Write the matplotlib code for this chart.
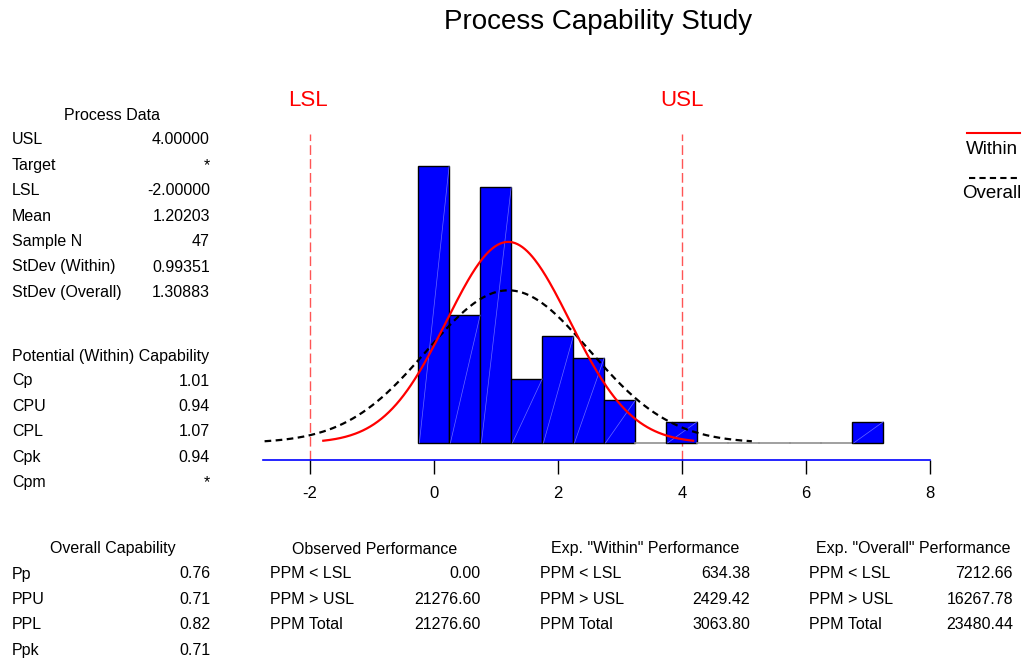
import numpy as np
import matplotlib
matplotlib.use("Agg")
import matplotlib.pyplot as plt

plt.rcParams['font.family'] = ['Liberation Sans', 'DejaVu Sans']

# histogram data (bin width 0.5)
bin_left = [-0.25, 0.25, 0.75, 1.25, 1.75, 2.25, 2.75, 3.25, 3.75, 4.25, 4.75, 5.25, 5.75, 6.25, 6.75]
counts = [13, 6, 12, 3, 5, 4, 2, 0, 1, 0, 0, 0, 0, 0, 1]
bin_width = 0.5

# process parameters
lsl, usl = -2.0, 4.0
mean = 1.20203
n_obs = 47
sd_within = 0.99351
sd_overall = 1.30883

process_data = [("USL", "4.00000"), ("Target", "*"), ("LSL", "-2.00000"),
                ("Mean", "1.20203"), ("Sample N", "47"),
                ("StDev (Within)", "0.99351"), ("StDev (Overall)", "1.30883")]
within_cap = [("Cp", "1.01"), ("CPU", "0.94"), ("CPL", "1.07"), ("Cpk", "0.94")]
overall_cap = [("Pp", "0.76"), ("PPU", "0.71"), ("PPL", "0.82"), ("Ppk", "0.71")]
observed_perf = [("PPM < LSL", "0.00"), ("PPM > USL", "21276.60"), ("PPM Total", "21276.60")]
within_perf = [("PPM < LSL", "634.38"), ("PPM > USL", "2429.42"), ("PPM Total", "3063.80")]
overall_perf = [("PPM < LSL", "7212.66"), ("PPM > USL", "16267.78"), ("PPM Total", "23480.44")]

W, H = 1026, 660
fig = plt.figure(figsize=(W / 100, H / 100), dpi=100)


def fx(px):
    return px / W


def fy(py):
    return 1 - py / H


fs = 11.5

# histogram axes
ax = fig.add_axes([fx(263), fy(460), fx(930) - fx(263), fy(134) - fy(460)])
ax.set_xlim(-2.75, 8.0)
ax.set_ylim(-0.8, 14.5)

for left, c in zip(bin_left, counts):
    if c > 0:
        ax.bar(left, c, width=bin_width, align='edge', color='#0000ff',
               edgecolor='black', linewidth=1.0, zorder=2)
        ax.plot([left + 0.02, left + bin_width], [0, c], color='#6a6aff',
                linewidth=0.5, zorder=3)
    else:
        ax.plot([left, left + bin_width], [0, 0], color='#909090',
                linewidth=1.2, zorder=2)


def normal_curve(sd):
    x = np.linspace(mean - 3 * sd, mean + 3 * sd, 300)
    y = n_obs * bin_width * np.exp(-0.5 * ((x - mean) / sd) ** 2) / (sd * np.sqrt(2 * np.pi))
    return x, y


xw, yw = normal_curve(sd_within)
xo, yo = normal_curve(sd_overall)
ax.plot(xo, yo, color='black', linestyle=(0, (3, 2)), linewidth=1.6, zorder=4)
ax.plot(xw, yw, color='#ff0000', linewidth=1.6, zorder=5)

for v in (lsl, usl):
    ax.axvline(v, color='#ff5555', linestyle=(0, (7, 3)), linewidth=1.0, zorder=1)

for s in ('top', 'right', 'left'):
    ax.spines[s].set_visible(False)
ax.spines['bottom'].set_color('#0000ff')
ax.spines['bottom'].set_linewidth(1.2)
ax.set_yticks([])
ax.set_xticks([-2, 0, 2, 4, 6, 8])
ax.set_xticklabels(['-2', '0', '2', '4', '6', '8'])
ax.tick_params(axis='x', direction='out', length=10, width=1, color='black',
               pad=9, labelsize=12)

# title and spec labels
fig.text(fx(598), fy(22), "Process Capability Study", fontsize=20, ha='center', va='center')
fig.text(fx(308), fy(100), "LSL", color='red', fontsize=16, ha='center', va='center')
fig.text(fx(682), fy(100), "USL", color='red', fontsize=16, ha='center', va='center')

# legend
fig.add_artist(plt.Line2D([fx(967), fx(1020)], [fy(133), fy(133)], color='red', linewidth=1.5))
fig.text(fx(992), fy(150), "Within", fontsize=13.5, ha='center', va='center')
fig.add_artist(plt.Line2D([fx(969), fx(1020)], [fy(178), fy(178)], color='black',
                          linewidth=1.5, linestyle=(0, (3, 2))))
fig.text(fx(992), fy(193), "Overall", fontsize=13.5, ha='center', va='center')


def table(rows, y0, xl, xr, step=25.4):
    for i, (lab, val) in enumerate(rows):
        y = fy(y0 + i * step)
        fig.text(fx(xl), y, lab, fontsize=fs, ha='left', va='center')
        fig.text(fx(xr), y, val, fontsize=fs, ha='right', va='center')


# left column
fig.text(fx(112), fy(115), "Process Data", fontsize=fs, ha='center', va='center')
table(process_data, 140, 12, 210)
fig.text(fx(12), fy(356), "Potential (Within) Capability", fontsize=fs, ha='left', va='center')
table(within_cap, 381, 12, 210)
table([("Cpm", "*")], 483, 12, 210)
fig.text(fx(113), fy(549), "Overall Capability", fontsize=fs, ha='center', va='center')
table(overall_cap, 574, 12, 210)

# bottom performance tables
fig.text(fx(375), fy(549), "Observed Performance", fontsize=fs, ha='center', va='center')
table(observed_perf, 574, 270, 481)
fig.text(fx(645), fy(549), 'Exp. "Within" Performance', fontsize=fs, ha='center', va='center')
table(within_perf, 574, 540, 750)
fig.text(fx(913), fy(549), 'Exp. "Overall" Performance', fontsize=fs, ha='center', va='center')
table(overall_perf, 574, 809, 1013)

fig.savefig("out.png", dpi=100)
